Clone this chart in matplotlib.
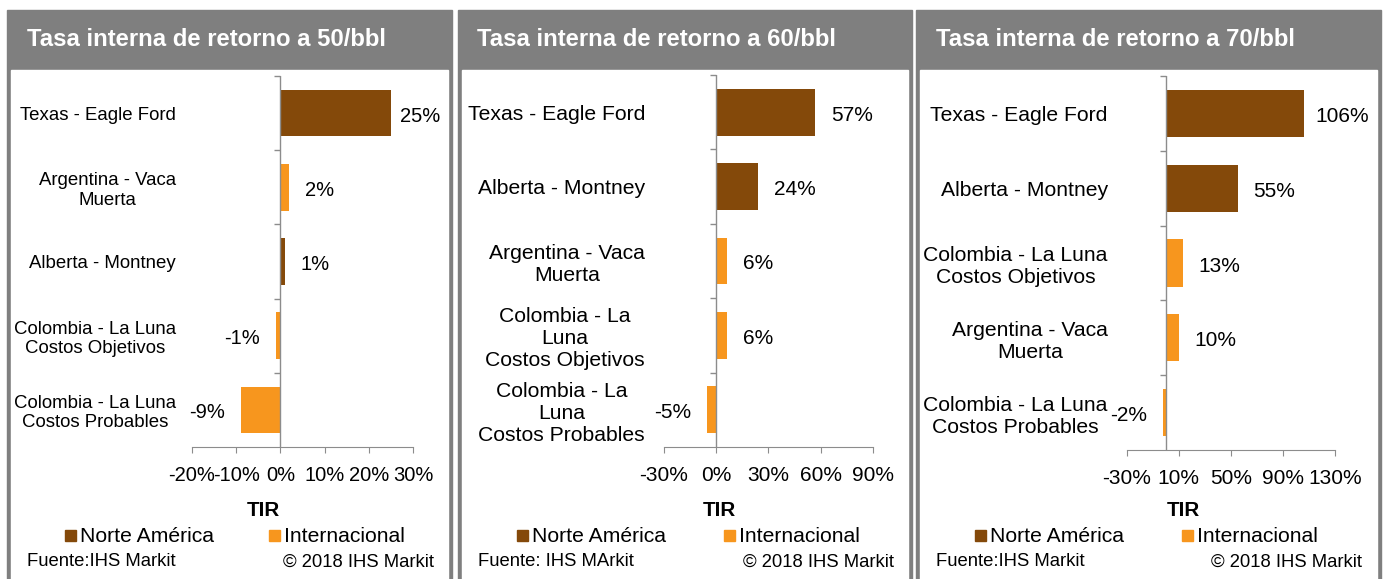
import matplotlib
matplotlib.use("Agg")
import matplotlib.pyplot as plt
import numpy as np
from matplotlib.patches import Rectangle

plt.rcParams['font.family'] = ['Liberation Sans', 'DejaVu Sans']

# %% data
cat_50 = ["Texas - Eagle Ford", "Argentina - Vaca\nMuerta", "Alberta - Montney",
          "Colombia - La Luna\nCostos Objetivos", "Colombia - La Luna\nCostos Probables"]
tir_50 = [25, 2, 1, -1, -9]
reg_50 = ["Norte América", "Internacional", "Norte América", "Internacional", "Internacional"]

cat_60 = ["Texas - Eagle Ford", "Alberta - Montney", "Argentina - Vaca\nMuerta",
          "Colombia - La\nLuna\nCostos Objetivos", "Colombia - La\nLuna\nCostos Probables"]
tir_60 = [57, 24, 6, 6, -5]
reg_60 = ["Norte América", "Norte América", "Internacional", "Internacional", "Internacional"]

cat_70 = ["Texas - Eagle Ford", "Alberta - Montney", "Colombia - La Luna\nCostos Objetivos",
          "Argentina - Vaca\nMuerta", "Colombia - La Luna\nCostos Probables"]
tir_70 = [106, 55, 13, 10, -2]
reg_70 = ["Norte América", "Norte América", "Internacional", "Internacional", "Internacional"]

xticks_50 = [-20, -10, 0, 10, 20, 30]
xticks_60 = [-30, 0, 30, 60, 90]
xticks_70 = [-30, 10, 50, 90, 130]

titles = ["Tasa interna de retorno a 50/bbl", "Tasa interna de retorno a 60/bbl",
          "Tasa interna de retorno a 70/bbl"]
fuentes = ["Fuente:IHS Markit", "Fuente: IHS MArkit", "Fuente:IHS Markit"]
copyright_txt = "© 2018 IHS Markit"
series = ["Norte América", "Internacional"]
colors = {"Norte América": "#84490A", "Internacional": "#F7961E"}

# %% layout (pixels)
W, H = 1386, 579
gray = "#7F7F7F"
axis_gray = "#8C8C8C"

def fx(px):
    return px / W

def fy(py):
    return 1 - py / H

panels = [
    dict(cats=cat_50, vals=tir_50, regs=reg_50, xt=xticks_50, box=(7, 452),
         ax=(192, 413, 76, 447), cat_fs=13.4, val_fs=14.5, pad=16,
         title_x=27, tir_x=263, leg=(65, 269), fuente_x=27, copy_x=434),
    dict(cats=cat_60, vals=tir_60, regs=reg_60, xt=xticks_60, box=(458, 912),
         ax=(664, 872.7, 75, 447), cat_fs=15.2, val_fs=15, pad=19,
         title_x=477, tir_x=719, leg=(517, 724), fuente_x=478, copy_x=894),
    dict(cats=cat_70, vals=tir_70, regs=reg_70, xt=xticks_70, box=(916, 1381),
         ax=(1126.7, 1335.3, 76, 450), cat_fs=15.2, val_fs=15, pad=19,
         title_x=936, tir_x=1183, leg=(975, 1182), fuente_x=936, copy_x=1362),
]

fig = plt.figure(figsize=(W / 100, H / 100), dpi=100)

labels_to_check = []
for i, p in enumerate(panels):
    x0, x1 = p["box"]
    # gray frame + header, white interior
    fig.add_artist(Rectangle((fx(x0), fy(H + 5)), (x1 - x0) / W, (H + 5 - 10) / H,
                             transform=fig.transFigure, color=gray, zorder=-10))
    fig.add_artist(Rectangle((fx(x0 + 4), fy(H + 5)), (x1 - x0 - 8) / W, (H + 5 - 70) / H,
                             transform=fig.transFigure, color="white", zorder=-9))
    fig.text(fx(p["title_x"]), fy(40), titles[i], color="white", fontweight="bold",
             fontsize=17.2, ha="left", va="center")

    l, r, t, b = p["ax"]
    ax = fig.add_axes([fx(l), fy(b), (r - l) / W, (b - t) / H])
    ax.set_facecolor("none")
    n = len(p["vals"])
    ypos = np.arange(n)
    ax.barh(ypos, p["vals"], height=0.63, color=[colors[g] for g in p["regs"]])
    ax.set_ylim(n - 0.5, -0.5)
    ax.set_xlim(p["xt"][0], p["xt"][-1])
    ax.set_xticks(p["xt"])
    ax.set_xticklabels([f"{v}%" for v in p["xt"]], fontsize=p["val_fs"])
    ax.set_yticks(ypos)
    ax.set_yticklabels(p["cats"], fontsize=p["cat_fs"], multialignment="center")
    for s in ["top", "right", "left"]:
        ax.spines[s].set_visible(False)
    ax.spines["bottom"].set_color(axis_gray)
    ax.tick_params(axis="x", direction="out", length=6 * 0.72, color=axis_gray, pad=9.5)
    ax.tick_params(axis="y", length=0, pad=p["pad"] * 0.72)

    # category axis at zero with boundary ticks
    ax.axvline(0, color=axis_gray, lw=1)
    tl = 6 * (p["xt"][-1] - p["xt"][0]) / (r - l)
    ax.hlines(np.arange(-0.5, n - 0.5), -tl, 0, color=axis_gray, lw=1, clip_on=False)

    for y, v in zip(ypos, p["vals"]):
        off = 16 if v >= 0 else -16
        txt = ax.annotate(f"{v}%", xy=(v, y), xytext=(off * 0.72, -3 * 0.72),
                          textcoords="offset points", ha="left" if v >= 0 else "right",
                          va="center", fontsize=p["val_fs"], annotation_clip=False)
        labels_to_check.append((txt, x1 - 12))

    fig.text(fx(p["tir_x"]), fy(510), "TIR", fontweight="bold", fontsize=14.9,
             ha="center", va="center")

    # legend
    for sx, name in zip(p["leg"], series):
        fig.add_artist(Rectangle((fx(sx), fy(541)), 11 / W, 11 / H,
                                 transform=fig.transFigure, color=colors[name]))
        fig.text(fx(sx + 15), fy(537), name, fontsize=15.2, ha="left", va="center")

    fig.text(fx(p["fuente_x"]), fy(562), fuentes[i], fontsize=13.3, ha="left", va="center")
    fig.text(fx(p["copy_x"]), fy(562), copyright_txt, fontsize=13.3, ha="right", va="center")

# keep outside labels inside the chart area
fig.canvas.draw()
renderer = fig.canvas.get_renderer()
for txt, limit in labels_to_check:
    ext = txt.get_window_extent(renderer)
    if ext.x1 > limit:
        ox, oy = txt.xyann
        txt.xyann = (ox - (ext.x1 - limit) * 0.72, oy)

fig.savefig("out.png", dpi=100)
